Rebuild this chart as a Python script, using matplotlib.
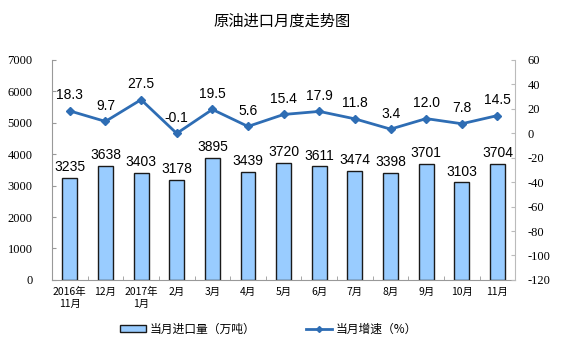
import matplotlib.pyplot as plt
import numpy as np
from matplotlib.lines import Line2D
from matplotlib.patches import Patch

plt.rcParams['font.family'] = ['Noto Sans CJK SC', 'DejaVu Sans']

months = ['2016年\n11月', '12月', '2017年\n1月', '2月', '3月', '4月', '5月',
          '6月', '7月', '8月', '9月', '10月', '11月']
imports = [3235, 3638, 3403, 3178, 3895, 3439, 3720, 3611, 3474, 3398, 3701, 3103, 3704]
growth = [18.3, 9.7, 27.5, -0.1, 19.5, 5.6, 15.4, 17.9, 11.8, 3.4, 12.0, 7.8, 14.5]

bar_color = '#99CCFF'
line_color = '#2E6DB4'

fig = plt.figure(figsize=(5.65, 3.57), dpi=100)
ax = fig.add_axes([0.092, 0.216, 0.82, 0.616])
x = np.arange(len(months))

ax.bar(x, imports, width=0.42, color=bar_color, edgecolor='#1a1a1a', linewidth=1.0, zorder=2)
for xi, v in zip(x, imports):
    ax.text(xi, v + 120, str(v), ha='center', va='bottom', fontsize=10,
            family='Liberation Sans')

ax.set_ylim(0, 7000)
ax.set_xlim(-0.5, len(months) - 0.5)
ax.set_yticks(range(0, 7001, 1000))
ax.set_yticklabels([str(v) for v in range(0, 7001, 1000)], family='Liberation Serif', fontsize=9)
ax.set_xticks(x)
ax.set_xticklabels(months, fontsize=7.5, linespacing=1.2)
ax.tick_params(axis='x', length=0, pad=5)
ax.set_xticks(np.arange(-0.5, len(months), 1), minor=True)
ax.tick_params(axis='x', which='minor', length=3, direction='in', color='#999999')
ax.tick_params(axis='y', length=3, direction='in', color='#999999', pad=14)

for s in ['top', 'right']:
    ax.spines[s].set_visible(False)
ax.spines['left'].set_color('#999999')
ax.spines['bottom'].set_color('#999999')

ax2 = ax.twinx()
ax2.plot(x, growth, color=line_color, linewidth=2, marker='D', markersize=4, zorder=3)
for xi, v in zip(x, growth):
    ax2.text(xi, v + 7, f'{v:.1f}', ha='center', va='bottom', fontsize=10,
             family='Liberation Sans')
ax2.set_ylim(-120, 60)
ax2.set_yticks(range(-120, 61, 20))
ax2.set_yticklabels([str(v) for v in range(-120, 61, 20)], family='Liberation Serif', fontsize=9)
ax2.tick_params(axis='y', length=3, direction='in', color='#bbbbbb', pad=9)
for s in ['top', 'left', 'bottom']:
    ax2.spines[s].set_visible(False)
ax2.spines['right'].set_color('#bbbbbb')

fig.text(0.5, 0.94, '原油进口月度走势图', ha='center', va='center', fontsize=11)

handles = [Patch(facecolor=bar_color, edgecolor='#1a1a1a', linewidth=1.0),
           Line2D([0], [0], color=line_color, linewidth=2, marker='D', markersize=3)]
fig.legend(handles, ['当月进口量（万吨）', '当月增速（%）'], loc='center',
           bbox_to_anchor=(0.475, 0.078), ncol=2, frameon=False, fontsize=8.5,
           columnspacing=4.3, handlelength=2.2, handleheight=0.6, handletextpad=0.3)

fig.savefig('out.png', dpi=100)
